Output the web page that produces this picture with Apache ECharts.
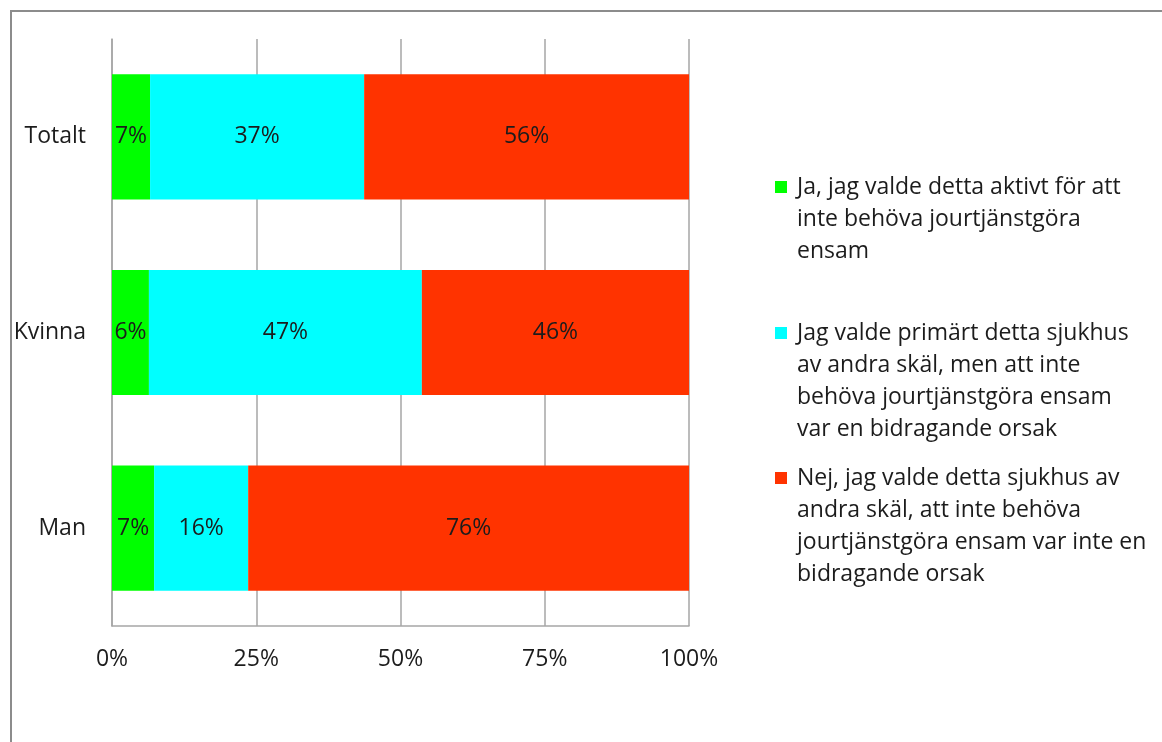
<!DOCTYPE html>
<html>
<head>
<meta charset="utf-8">
<script src="https://cdn.jsdelivr.net/npm/echarts@6/dist/echarts.min.js"></script>
<style>
  html, body { margin: 0; padding: 0; background: #ffffff; }
  #chart { width: 1162px; height: 742px; }
</style>
</head>
<body>
<div id="chart"></div>
<script>
// Answer groups (rows, top to bottom)
const categories = ['Totalt', 'Kvinna', 'Man'];

// Share of respondents per answer, in percent of each row
const jaValues = [6.6, 6.4, 7.3];
const primartValues = [37.1, 47.3, 16.3];
const nejValues = [56.3, 46.3, 76.4];

// Axis tick values (percent)
const xTicks = [0, 25, 50, 75, 100];

// Legend text, one entry per answer, already broken into lines
const jaName = ['Ja, jag valde detta aktivt för att', 'inte behöva jourtjänstgöra', 'ensam'];
const primartName = ['Jag valde primärt detta sjukhus', 'av andra skäl, men att inte', 'behöva jourtjänstgöra ensam', 'var en bidragande orsak'];
const nejName = ['Nej, jag valde detta sjukhus av', 'andra skäl, att inte behöva', 'jourtjänstgöra ensam var inte en', 'bidragande orsak'];

const FONT = '"Open Sans", Lato, sans-serif';
const FS = 23;
const TEXT = '#1c1c1c';
const LH = 32;
const MARK = 12;

const seriesDefs = [
  { lines: jaName, values: jaValues, color: '#00ff00', firstLine: 187 },
  { lines: primartName, values: primartValues, color: '#00ffff', firstLine: 333 },
  { lines: nejName, values: nejValues, color: '#ff3300', firstLine: 478 }
];

// Legend marker: a square beside the first text line of a block that is
// `h` pixels tall (tiny strokes at top and bottom fix the icon's extent)
function markerPath(h) {
  const a = LH / 2 - MARK / 2;
  const b = a + MARK;
  return 'path://M0,0L0.01,0' +
    'M0,' + a + 'L' + MARK + ',' + a + 'L' + MARK + ',' + b + 'L0,' + b + 'Z' +
    'M0,' + h + 'L0.01,' + h;
}

const chart = echarts.init(document.getElementById('chart'), null, { renderer: 'canvas' });

// One legend block per answer
const legends = seriesDefs.map(function (s) {
  const h = s.lines.length * LH;
  return {
    orient: 'vertical',
    left: 775,
    top: s.firstLine - LH / 2,
    padding: 0,
    itemWidth: MARK,
    itemHeight: h,
    selectedMode: false,
    data: [{ name: s.lines.join('\n'), icon: markerPath(h) }],
    textStyle: {
      fontFamily: FONT,
      fontSize: FS,
      color: TEXT,
      lineHeight: LH,
      padding: [0, 0, 0, 5]
    }
  };
});

const series = seriesDefs.map(function (s) {
  return {
    name: s.lines.join('\n'),
    type: 'bar',
    stack: 'total',
    barCategoryGap: '36%',
    data: s.values,
    itemStyle: { color: s.color },
    label: {
      show: true,
      position: 'inside',
      fontFamily: FONT,
      fontSize: FS,
      color: TEXT,
      formatter: function (p) { return Math.round(p.value) + '%'; }
    },
    emphasis: { disabled: true }
  };
});

chart.setOption({
  animation: false,
  backgroundColor: '#ffffff',
  grid: { left: 112, top: 39, width: 577, height: 587, containLabel: false },
  legend: legends,
  xAxis: {
    type: 'value',
    min: xTicks[0],
    max: xTicks[xTicks.length - 1],
    interval: xTicks[1] - xTicks[0],
    axisLine: { show: true, lineStyle: { color: '#a6a6a6', width: 1.5 } },
    axisTick: { show: false },
    splitLine: { show: true, lineStyle: { color: '#a6a6a6', width: 1.5 } },
    axisLabel: {
      margin: 22,
      fontFamily: FONT,
      fontSize: FS,
      color: TEXT,
      formatter: function (v) { return v + '%'; }
    }
  },
  yAxis: {
    type: 'category',
    inverse: true,
    data: categories,
    axisLine: { show: true, lineStyle: { color: '#a6a6a6', width: 1.5 } },
    axisTick: { show: false },
    axisLabel: {
      margin: 26,
      fontFamily: FONT,
      fontSize: FS,
      color: TEXT
    }
  },
  series: series,
  graphic: [
    {
      type: 'polyline',
      silent: true,
      shape: { points: [[11, 742], [11, 11], [1162, 11]] },
      style: { stroke: '#8c8c8c', lineWidth: 2, fill: null }
    }
  ]
});
</script>
</body>
</html>
